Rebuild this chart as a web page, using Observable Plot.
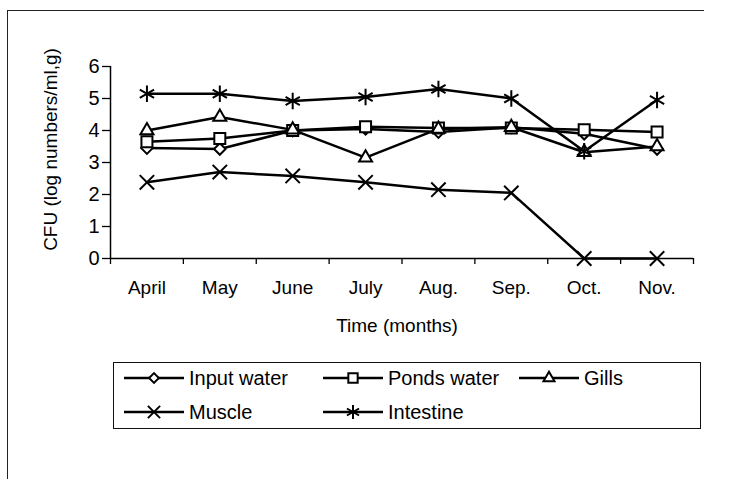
<!DOCTYPE html>
<html>
<head>
<meta charset="utf-8">
<script src="https://cdn.jsdelivr.net/npm/d3@7"></script>
<script src="https://cdn.jsdelivr.net/npm/@observablehq/plot@0.6"></script>
<style>
  html, body { margin: 0; padding: 0; background: #fff; width: 733px; height: 479px; overflow: hidden; }
  body { position: relative; font-family: "Liberation Sans", Arial, sans-serif; color: #000; }
  #frame { position: absolute; left: 7px; top: 10px; width: 696px; height: 520px; border-top: 1.5px solid #222; border-left: 1.5px solid #222; }
  #chart { position: absolute; left: 0; top: 0; }
  #legend { position: absolute; left: 113px; top: 362px; width: 588px; height: 67px; border: 1.5px solid #111; box-sizing: border-box; }
  .item { position: absolute; height: 24px; display: flex; align-items: center; font-size: 20px; white-space: nowrap; }
  .item svg { display: block; margin-right: 5px; }
</style>
</head>
<body>
<div id="frame"></div>
<div id="chart"></div>
<div id="legend"></div>
<script>
// ---- data ----
const months = ["April", "May", "June", "July", "Aug.", "Sep.", "Oct.", "Nov."];
const seriesNames = ["Input water", "Ponds water", "Gills", "Muscle", "Intestine"];
const inputWater = [3.45, 3.42, 4.0, 4.05, 3.95, 4.1, 3.9, 3.42];
const pondsWater = [3.65, 3.75, 4.0, 4.12, 4.08, 4.08, 4.02, 3.95];
const gills      = [4.0, 4.42, 4.02, 3.15, 4.05, 4.1, 3.32, 3.5];
const muscle     = [2.38, 2.7, 2.58, 2.38, 2.15, 2.05, 0, 0];
const intestine  = [5.15, 5.15, 4.92, 5.05, 5.3, 5.0, 3.35, 4.95];
const yTicks = [0, 1, 2, 3, 4, 5, 6];
const yLabel = "CFU (log numbers/ml,g)";
const xLabel = "Time (months)";

const seriesValues = [inputWater, pondsWater, gills, muscle, intestine];
const rows = [];
seriesNames.forEach((s, k) => seriesValues[k].forEach((v, i) => rows.push({series: s, i, value: v})));

// styles per series
const styles = {
  "Input water": {symbol: "diamond2", r: 5.2},
  "Ponds water": {symbol: "square2", r: 7},
  "Gills": {symbol: "triangle2", r: 6.2},
  "Muscle": {symbol: "times", r: 6.6},
  "Intestine": {symbol: "asterisk", r: 7.8}
};
const d3sym = {diamond2: d3.symbolDiamond2, square2: d3.symbolSquare2, triangle2: d3.symbolTriangle2, times: d3.symbolTimes, asterisk: d3.symbolAsterisk};

const boundaries = d3.range(months.length + 1).map(k => k - 0.5);

const dotMarks = seriesNames.map(s => Plot.dot(rows.filter(d => d.series === s), {
  x: "i", y: "value", symbol: () => styles[s].symbol, r: styles[s].r,
  fill: "white", stroke: "black", strokeWidth: 2
}));

const chart = Plot.plot({
  width: 733,
  height: 345,
  marginLeft: 110,
  marginRight: 40,
  marginTop: 66,
  marginBottom: 87,
  x: {domain: [-0.5, months.length - 0.5]},
  y: {domain: [0, 6]},
  symbol: {type: "identity"},
  style: {fontFamily: "'Liberation Sans', Arial, sans-serif", fontSize: "19px", color: "black", background: "transparent", overflow: "visible"},
  marks: [
    Plot.axisY({ticks: yTicks, tickSize: 8, tickPadding: 3, tickFormat: d => String(d), label: null, fontSize: 20, strokeWidth: 1.3}),
    Plot.axisX({ticks: boundaries, tickSize: 6, tickFormat: () => "", label: null, strokeWidth: 1.3}),
    Plot.axisX({ticks: d3.range(months.length), tickSize: 0, tickPadding: 22, tickFormat: i => months[i], label: null, fontSize: 19}),
    Plot.ruleX([-0.5], {y1: 0, y2: 6, stroke: "black", strokeWidth: 1.5}),
    Plot.ruleY([0], {stroke: "black", strokeWidth: 1.5}),
    Plot.text([yLabel], {frameAnchor: "left", textAnchor: "middle", rotate: -90, dx: -60, dy: -13, fontSize: 19, fill: "black"}),
    Plot.text([xLabel], {frameAnchor: "bottom", dy: 73, dx: -5, fontSize: 19, fill: "black"}),
    Plot.line(rows, {x: "i", y: "value", z: "series", stroke: "black", strokeWidth: 2.5}),
    ...dotMarks
  ]
});
document.getElementById("chart").appendChild(chart);

// ---- legend ----
const legendPos = {
  "Input water": [10, 3], "Ponds water": [209, 3], "Gills": [405, 3],
  "Muscle": [10, 37], "Intestine": [209, 37]
};
const legend = d3.select("#legend");
seriesNames.forEach(s => {
  const [lx, ly] = legendPos[s];
  const item = legend.append("div").attr("class", "item").style("left", lx + "px").style("top", ly + "px");
  const svg = item.append("svg").attr("width", 60).attr("height", 24);
  svg.append("line").attr("x1", 0).attr("x2", 60).attr("y1", 12).attr("y2", 12).attr("stroke", "black").attr("stroke-width", 2.5);
  const r = styles[s].r * 0.85;
  svg.append("path").attr("transform", "translate(30,12)")
    .attr("d", d3.symbol(d3sym[styles[s].symbol], r * r * Math.PI)())
    .attr("fill", "white").attr("stroke", "black").attr("stroke-width", 2);
  item.append("span").text(s);
});
</script>
</body>
</html>
